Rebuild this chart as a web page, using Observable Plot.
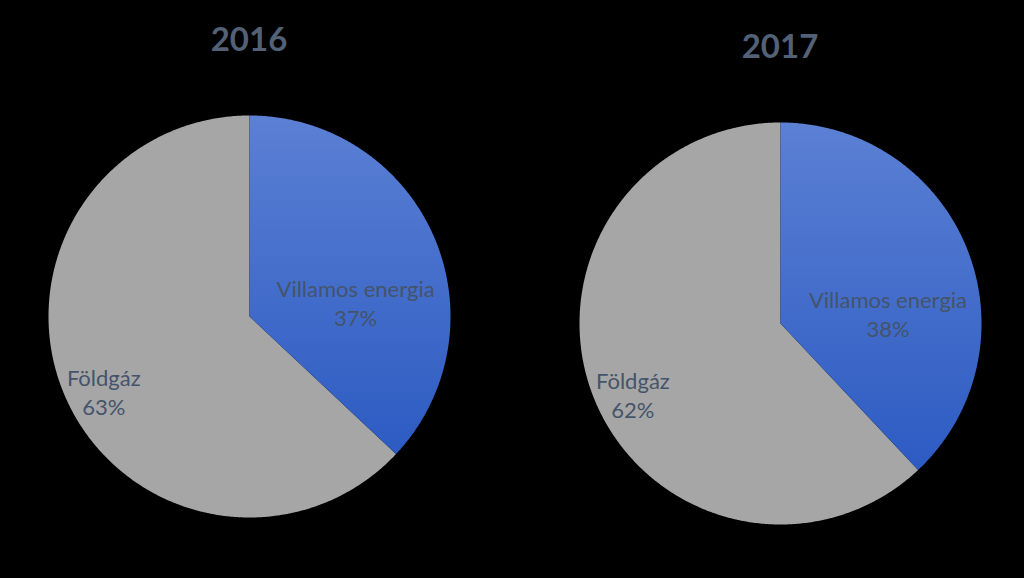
<!DOCTYPE html>
<html>
<head>
<meta charset="utf-8">
<script src="https://cdn.jsdelivr.net/npm/d3@7"></script>
<script src="https://cdn.jsdelivr.net/npm/@observablehq/plot@0.6"></script>
<style>
  html, body { margin: 0; padding: 0; background: #000; }
  #root { position: relative; width: 1024px; height: 578px; background: #000; overflow: hidden; font-family: Lato, "Open Sans", sans-serif; }
  .title { position: absolute; width: 200px; text-align: center; font-weight: 700; font-size: 33px; color: #536177; line-height: 40px; }
  .pie { position: absolute; }
</style>
</head>
<body>
<div id="root"></div>
<script>
const years = ["2016", "2017"];
const categories = ["Villamos energia", "Földgáz"];
const shares2016 = [37, 63];
const shares2017 = [38, 62];
const sharesByYear = [shares2016, shares2017];

// layout (pixels) for each pie block
const layout = [
  {cx: 249, cy: 316, titleY: 18},
  {cx: 780, cy: 323, titleY: 25}
];
const R = 201;
const half = 205;
const dom = half / R;

const root = document.getElementById("root");

function slicePolygon(a0, a1, name) {
  const pts = [{x: 0, y: 0, name}];
  const steps = Math.max(2, Math.ceil((a1 - a0) / (Math.PI / 360)));
  for (let i = 0; i <= steps; i++) {
    const a = a0 + (a1 - a0) * i / steps;
    pts.push({x: Math.sin(a), y: Math.cos(a), name});
  }
  pts.push({x: 0, y: 0, name});
  return pts;
}

years.forEach((year, yi) => {
  const shares = sharesByYear[yi];
  const total = d3.sum(shares);
  let acc = 0;
  const slices = shares.map((v, i) => {
    const a0 = acc / total * 2 * Math.PI;
    acc += v;
    const a1 = acc / total * 2 * Math.PI;
    return {name: categories[i], value: v, a0, a1, mid: (a0 + a1) / 2};
  });
  const polyBlue = slicePolygon(slices[0].a0, slices[0].a1, slices[0].name);
  const polyGray = slicePolygon(slices[1].a0, slices[1].a1, slices[1].name);

  const kInner = 0.575, kOuter = 0.79;
  const lab = slices.map((s, i) => {
    const k = i === 0 ? kInner : kOuter;
    return {x: Math.sin(s.mid) * k, y: Math.cos(s.mid) * k, text: s.name + "\n" + s.value + "%"};
  });

  const gid = "blueGrad" + year;
  const defs = () => {
    const d = d3.create("svg:defs");
    const g = d.append("linearGradient").attr("id", gid).attr("x1", 0).attr("y1", 0).attr("x2", 0).attr("y2", 1);
    g.append("stop").attr("offset", "0%").attr("stop-color", "#5b80d4");
    g.append("stop").attr("offset", "100%").attr("stop-color", "#2d5bc2");
    return d.node();
  };

  const chart = Plot.plot({
    width: half * 2,
    height: half * 2,
    margin: 0,
    x: {domain: [-dom, dom], axis: null},
    y: {domain: [-dom, dom], axis: null},
    style: {background: "transparent", overflow: "visible"},
    marks: [
      defs,
      Plot.line(polyGray, {x: "x", y: "y", fill: "#a6a6a6", stroke: "none", curve: "linear"}),
      Plot.line(polyBlue, {x: "x", y: "y", fill: `url(#${gid})`, stroke: "none", curve: "linear"}),
      Plot.text([lab[0]], {x: "x", y: "y", text: "text", dy: 32, fill: "#44546a", fontSize: 22, fontFamily: "Lato, sans-serif", lineHeight: 1.32}),
      Plot.text([lab[1]], {x: "x", y: "y", text: "text", dy: 12, fill: "#44546a", fontSize: 22, fontFamily: "Lato, sans-serif", lineHeight: 1.32})
    ]
  });
  const wrap = document.createElement("div");
  wrap.className = "pie";
  wrap.style.left = (layout[yi].cx - half) + "px";
  wrap.style.top = (layout[yi].cy - half) + "px";
  wrap.appendChild(chart);
  root.appendChild(wrap);

  const t = document.createElement("div");
  t.className = "title";
  t.textContent = year;
  t.style.left = (layout[yi].cx - 100) + "px";
  t.style.top = layout[yi].titleY + "px";
  root.appendChild(t);
});
</script>
</body>
</html>
